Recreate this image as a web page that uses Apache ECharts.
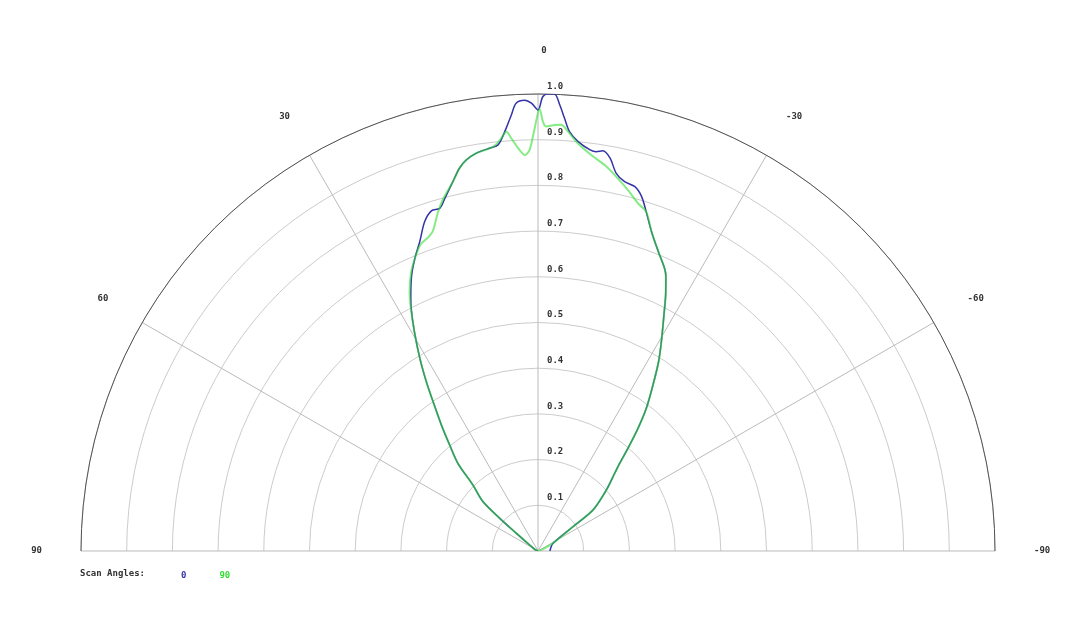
<!DOCTYPE html>
<html>
<head>
<meta charset="utf-8">
<title>Scan Angles</title>
<script src="https://cdn.jsdelivr.net/npm/echarts@6/dist/echarts.min.js"></script>
<style>
  html, body { margin: 0; padding: 0; background: #fff; }
  #chart { width: 1080px; height: 637px; }
</style>
</head>
<body>
<div id="chart"></div>
<script>
'use strict';
// scan angle series names (legend)
var scanNames = ['0', '90'];

// angle (deg) / normalised value, scan 0
var angles0 = [-90, -63, -55.2, -53.3, -48.3, -44.6, -43, -41.2, -39.2, -37.2, -34.7, -32.5, -30.5, -28.1, -26.5, -25.0, -24.1,
    -21.9, -19.6, -17.7, -16.3, -14.9, -13.2, -11.7, -10.4, -9.2, -8.3, -7.4, -5.6, -4.3, -3.5, -2.8, -2.1, -1.25, -0.6,
    0, 0.84, 1.7, 2.8, 3.5, 4.3, 5.6, 6.8, 8.8, 10.4, 11.6, 13.0, 14.8, 16.0, 17.4, 19.0, 20.9, 22.8, 24.6, 26.4, 27.6,
    29.4, 31.5, 33.4, 35.1, 37.5, 39.8, 42.4, 44.6, 48.1, 49.5, 50.7, 55, 70, 90];
var values0 = [0.026, 0.037, 0.093, 0.150, 0.200, 0.239, 0.262, 0.299, 0.346, 0.392, 0.442, 0.491, 0.532, 0.585, 0.626, 0.662, 0.678,
    0.706, 0.741, 0.779, 0.808, 0.825, 0.830, 0.844, 0.874, 0.887, 0.883, 0.885, 0.900, 0.920, 0.949, 0.977, 1.0, 1.0, 0.994,
    0.965, 0.980, 0.987, 0.981, 0.956, 0.928, 0.893, 0.888, 0.881, 0.870, 0.855, 0.829, 0.798, 0.780, 0.780, 0.762, 0.725, 0.695, 0.664, 0.626, 0.599,
    0.551, 0.495, 0.444, 0.399, 0.347, 0.302, 0.260, 0.203, 0.162, 0.110, 0.061, 0.020, 0.005, 0];

// angle (deg) / normalised value, scan 90
var angles90 = [-90, -70, -63, -55.2, -53.3, -48.3, -44.6, -43, -41.2, -39.2, -37.2, -34.7, -32.5, -30.5, -28.1, -26.5, -25.0, -24.1,
    -21.9, -19.6, -17.7, -16.0, -14.0, -11.5, -9.8, -7.7, -5.6, -4.1, -3.1, -2.25, -1.1, -0.67, -0.2,
    0.45, 1.2, 1.9, 2.8, 3.7, 4.3, 5.3, 6.35, 8.8, 10.4, 11.6, 13.0, 15.2, 16.5, 18.2, 19.5, 21.0, 22.8, 24.6, 26.4, 27.6,
    29.4, 31.5, 33.4, 35.1, 37.5, 39.8, 42.4, 44.6, 48.1, 49.5, 50.7, 55, 70, 90];
var values90 = [0, 0.010, 0.035, 0.093, 0.150, 0.200, 0.239, 0.262, 0.299, 0.346, 0.392, 0.442, 0.491, 0.532, 0.585, 0.626, 0.662, 0.678,
    0.706, 0.741, 0.779, 0.792, 0.814, 0.840, 0.857, 0.874, 0.896, 0.920, 0.934, 0.933, 0.929, 0.939, 0.968,
    0.925, 0.878, 0.867, 0.882, 0.905, 0.920, 0.903, 0.890, 0.881, 0.870, 0.855, 0.829, 0.796, 0.772, 0.737, 0.726, 0.718, 0.695, 0.668, 0.632, 0.601,
    0.551, 0.495, 0.444, 0.399, 0.347, 0.302, 0.260, 0.203, 0.162, 0.110, 0.061, 0.020, 0.005, 0];

// angle axis ticks and radius axis ticks
var angleMin = -90, angleMax = 90, angleStep = 30;
var radiusMax = 1, radiusStep = 0.1;

function toPairs(angles, values) {
    // polar data is [radius, angle]
    return angles.map(function (a, i) { return [values[i], a]; });
}

var monoFont = 'DejaVu Sans Mono';
var blue = '#3434a8';
var green = '#33dd33';
var chart = echarts.init(document.getElementById('chart'));

var option = {
    backgroundColor: '#fff',
    animation: false,
    title: {
        text: 'Scan Angles:',
        left: 80,
        top: 569,
        padding: 0,
        textStyle: { fontFamily: monoFont, fontSize: 9, fontWeight: 'bold', color: '#333' }
    },
    legend: {
        left: 176,
        top: 569,
        padding: 0,
        itemGap: 28,
        itemWidth: 0,
        icon: 'none',
        selectedMode: false,
        textStyle: { fontFamily: monoFont, fontSize: 9, fontWeight: 'bold' },
        data: [
            { name: scanNames[0], textStyle: { color: blue } },
            { name: scanNames[1], textStyle: { color: green } }
        ]
    },
    polar: [
        { center: [538, 551], radius: 457 },
        { center: [538, 551], radius: 457 }
    ],
    angleAxis: [
        {
            polarIndex: 0,
            type: 'value',
            min: angleMin,
            max: angleMax,
            interval: angleStep,
            startAngle: 0,
            endAngle: 180,
            clockwise: false,
            axisLine: { lineStyle: { color: '#555', width: 1 } },
            axisTick: { show: false },
            axisLabel: {
                margin: 39,
                fontFamily: monoFont, fontSize: 9, fontWeight: 'bold', color: '#333',
                formatter: function (v) { return v === 0 ? '{top|0}' : String(v); },
                rich: {
                    top: { fontFamily: monoFont, fontSize: 9, fontWeight: 'bold', color: '#333', padding: [0, 0, 0, 12] }
                }
            },
            splitLine: { lineStyle: { color: '#bbb', width: 1 } }
        },
        {
            // only used so the second radius axis stands upright
            polarIndex: 1,
            type: 'value',
            min: 0,
            max: 360,
            startAngle: 90,
            show: false
        }
    ],
    radiusAxis: [
        {
            polarIndex: 0,
            type: 'value',
            min: 0,
            max: radiusMax,
            interval: radiusStep,
            axisLine: { show: false },
            axisTick: { show: false },
            axisLabel: { show: false },
            splitLine: { lineStyle: { color: '#ccc', width: 1 } }
        },
        {
            polarIndex: 1,
            type: 'value',
            min: 0,
            max: radiusMax,
            interval: radiusStep,
            axisLine: { show: false },
            axisTick: { show: false },
            splitLine: { show: false },
            axisLabel: {
                margin: -9,
                align: 'left',
                verticalAlign: 'bottom',
                padding: [0, 0, 3, 0],
                fontFamily: monoFont, fontSize: 9, fontWeight: 'bold', color: '#333',
                formatter: function (v) { return v === 0 ? '' : v.toFixed(1); }
            }
        }
    ],
    series: [
        {
            name: scanNames[0],
            type: 'line',
            coordinateSystem: 'polar',
            polarIndex: 0,
            showSymbol: false,
            smooth: 0.3,
            lineStyle: { color: blue, width: 1.5 },
            itemStyle: { color: blue },
            data: toPairs(angles0, values0),
            z: 3
        },
        {
            name: scanNames[1],
            type: 'line',
            coordinateSystem: 'polar',
            polarIndex: 0,
            showSymbol: false,
            smooth: 0.3,
            lineStyle: { color: green, width: 2, opacity: 0.6 },
            itemStyle: { color: green },
            data: toPairs(angles90, values90),
            z: 4
        }
    ]
};

chart.setOption(option);
window.addEventListener('resize', function () { chart.resize(); });
</script>
</body>
</html>
